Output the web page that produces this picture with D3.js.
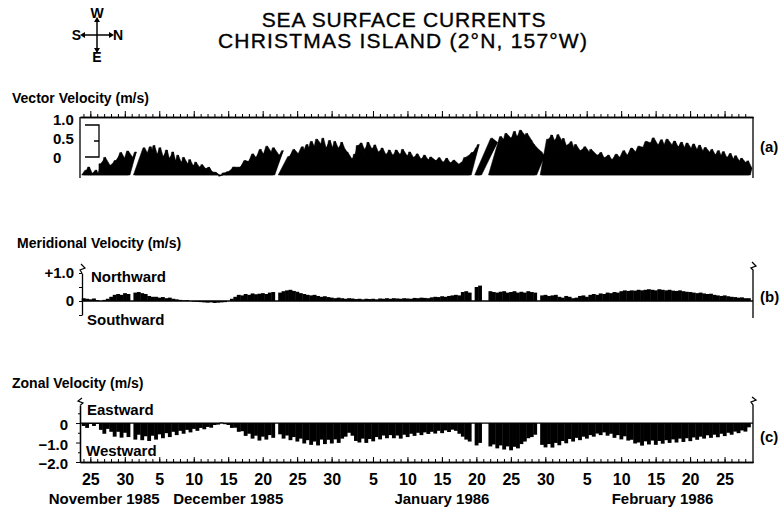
<!DOCTYPE html>
<html>
<head>
  <meta charset="utf-8">
  <title>Sea surface currents - Christmas Island</title>
  <script src="https://d3js.org/d3.v7.min.js"></script>
  <style>
    body { margin: 0; background: #fff; }
    svg text { font-family: "Liberation Sans Narrow", "Arial Narrow", sans-serif; font-weight: bold; fill: #000; }
    svg text.title { font-family: "Liberation Sans", Arial, sans-serif; font-weight: normal; stroke: #000; stroke-width: 0.35px; }
  </style>
</head>
<body>
  <svg id="chart"></svg>

  <script>
    // velocities (m/s), one sample every 12 h from 24 Nov 1985 00:00, null = no data
    const zonal = [
      -0.15, -0.25, -0.05, -0.15, -0.05, -0.35, -0.55, -0.3, -0.45, -0.7,
      -0.45, -0.75, -0.5, -0.72, null, -0.85, -0.6, -0.88, -0.68, -0.92,
      -0.65, -0.85, -0.58, -0.78, -0.52, -0.72, -0.45, -0.62, -0.4, -0.55,
      -0.35, -0.48, -0.3, -0.4, -0.25, -0.32, -0.2, -0.24, -0.1, -0.08,
      0.03, -0.06, -0.1, -0.25, -0.24, -0.45, -0.42, -0.66, -0.55, -0.8,
      -0.65, -0.9, -0.7, -0.85, -0.62, -0.76, null, -0.58, -0.8, -0.64,
      -0.88, -0.72, -0.95, -0.8, -1.05, -0.88, -1.12, -0.95, -1.15, -0.85,
      -1.08, -0.86, -1.05, -0.84, -1.02, -0.8, -0.7, -0.5, -0.65, -0.92,
      -1.0, -0.8, -1.02, -0.82, -0.94, -0.72, -0.84, -0.64, -0.78, -0.62,
      -0.78, -0.64, -0.8, -0.6, -0.72, -0.55, -0.66, -0.5, -0.62, -0.48,
      -0.56, -0.45, -0.54, -0.4, -0.52, -0.38, -0.46, -0.34, -0.4, -0.55,
      -0.7, -0.85, -0.95, null, -1.15, -1.02, null, null, -1.2, -1.1,
      -1.3, -1.15, -1.36, -1.2, -1.4, -1.22, -1.3, -1.08, -0.95, -0.78,
      -0.72, -0.6, null, -1.12, -1.25, -1.08, -1.26, -1.02, -1.14, -0.92,
      -1.04, -0.82, -0.95, -0.76, -0.88, -0.7, -0.8, -0.62, -0.7, -0.54,
      -0.62, -0.48, -0.65, -0.55, -0.76, -0.62, -0.84, -0.68, -0.9, -0.86,
      -1.05, -1.0, -1.16, -0.94, -1.1, -0.9, -1.12, -0.92, -1.06, -0.88,
      -1.02, -0.84, -1.0, -0.8, -0.97, -0.78, -0.93, -0.74, -0.86, -0.7,
      -0.8, -0.63, -0.76, -0.6, -0.73, -0.55, -0.67, -0.5, -0.6, -0.44,
      -0.52, -0.38, -0.44, -0.22
    ];
    const meridional = [
      0.1, 0.08, 0.06, 0.09, 0.03, 0.0, 0.04, 0.08, 0.15, 0.22,
      0.25, 0.22, 0.28, 0.25, null, 0.3, 0.32, 0.28, 0.25, 0.18,
      0.15, 0.15, 0.12, 0.14, 0.1, 0.12, 0.08, 0.06, 0.04, 0.02,
      0.03, 0.0, -0.02, -0.03, -0.04, -0.05, -0.06, -0.05, -0.07, -0.06,
      -0.05, -0.04, 0.0, 0.08, 0.15, 0.22, 0.2, 0.25, 0.22, 0.27,
      0.24, 0.26, 0.28, 0.25, 0.3, 0.32, null, 0.3, 0.35, 0.38,
      0.4, 0.36, 0.33, 0.28, 0.25, 0.22, 0.2, 0.22, 0.18, 0.15,
      0.17, 0.14, 0.12, 0.1, 0.12, 0.1, 0.08, 0.1, 0.09, 0.07,
      0.08, 0.06, 0.08, 0.07, 0.08, 0.06, 0.09, 0.08, 0.1, 0.08,
      0.1, 0.09, 0.08, 0.1, 0.09, 0.08, 0.11, 0.1, 0.12, 0.11,
      0.1, 0.13, 0.15, 0.14, 0.17, 0.15, 0.18, 0.2, 0.22, 0.2,
      0.32, 0.35, 0.3, null, 0.5, 0.55, null, null, 0.35, 0.32,
      0.3, 0.33, 0.35, 0.3, 0.32, 0.35, 0.3, 0.33, 0.3, 0.35,
      0.32, 0.3, null, 0.2, 0.22, 0.18, 0.2, 0.22, 0.15, 0.12,
      0.18, 0.15, 0.1, 0.12, 0.18, 0.2, 0.15, 0.22, 0.25, 0.22,
      0.27, 0.25, 0.3, 0.28, 0.32, 0.3, 0.35, 0.38, 0.36, 0.38,
      0.37, 0.4, 0.38, 0.4, 0.42, 0.4, 0.38, 0.42, 0.4, 0.38,
      0.4, 0.37, 0.36, 0.38, 0.35, 0.33, 0.32, 0.3, 0.28, 0.3,
      0.27, 0.25, 0.26, 0.22, 0.2, 0.18, 0.2, 0.17, 0.15, 0.14,
      0.12, 0.13, 0.1, 0.1
    ];

    // axis labels
    const dayLabelDates = [
      "1985-11-25", "1985-11-30", "1985-12-05", "1985-12-10", "1985-12-15",
      "1985-12-20", "1985-12-25", "1985-12-30", "1986-01-05", "1986-01-10",
      "1986-01-15", "1986-01-20", "1986-01-25", "1986-01-30", "1986-02-05",
      "1986-02-10", "1986-02-15", "1986-02-20", "1986-02-25"
    ];
    const monthLabels = ["November 1985", "December 1985", "January 1986", "February 1986"];
    const monthLabelDates = ["1985-11-27", "1985-12-15", "1986-01-15", "1986-02-16"];
    const vectorTicks = [1.0, 0.5, 0];
    const meridionalTicks = [1.0, 0];
    const zonalTicks = [0, -1.0, -2.0];

    const parse = d3.timeParse("%Y-%m-%d");
    const signed = v => v === 0 ? "0" : (v < 0 ? "\u2212" : "+") + Math.abs(v).toFixed(1);

    const svg = d3.select("#chart").attr("width", 782).attr("height", 510);

    const start = new Date(1985, 10, 24);
    const times = zonal.map((d, i) => d3.timeHour.offset(start, 12 * i));

    const x = d3.scaleTime()
      .domain([new Date(1985, 10, 23, 12), new Date(1986, 2, 1, 3)])
      .range([80, 753]);
    const step = x(times[1]) - x(times[0]);

    const allDays = d3.timeDay.range(new Date(1985, 10, 24), new Date(1986, 2, 1));
    const majorDays = allDays.filter(d => d.getDate() % 5 === 0);

    // ---- title and compass
    svg.append("text").attr("class", "title").attr("x", 404).attr("y", 27).attr("text-anchor", "middle")
      .attr("font-size", 21).attr("letter-spacing", 0.8).text("SEA SURFACE CURRENTS");
    svg.append("text").attr("class", "title").attr("x", 403).attr("y", 48).attr("text-anchor", "middle")
      .attr("font-size", 21).attr("letter-spacing", 1.2).text("CHRISTMAS ISLAND (2°N, 157°W)");

    const comp = svg.append("g").attr("transform", "translate(97,35)");
    comp.append("line").attr("x1", 0).attr("x2", 0).attr("y1", -14).attr("y2", 14).attr("stroke", "#000").attr("stroke-width", 1.5);
    comp.append("line").attr("x1", -13).attr("x2", 13).attr("y1", 0).attr("y2", 0).attr("stroke", "#000").attr("stroke-width", 1.5);
    [[0, -15, 0], [0, 15, 180], [-14, 0, 270], [14, 0, 90]].forEach(([ax, ay, r]) => {
      comp.append("path").attr("d", "M0,-3L3,2L-3,2Z")
        .attr("transform", `translate(${ax},${ay}) rotate(${r})`).attr("fill", "#000");
    });
    const cl = (tx, ty, s, anchor) => comp.append("text").attr("x", tx).attr("y", ty)
      .attr("text-anchor", anchor).attr("font-size", 14).text(s);
    cl(0, -17, "W", "middle");
    cl(0, 27, "E", "middle");
    cl(-16, 5, "S", "end");
    cl(16, 5, "N", "start");

    const label = (tx, ty, s, size = 14, anchor = "start") =>
      svg.append("text").attr("x", tx).attr("y", ty).attr("font-size", size)
        .attr("text-anchor", anchor).text(s);

    // ---- (a) vector velocity stick plot (north to the right, west up)
    label(12, 103, "Vector Velocity  (m/s)", 14);
    const vec = d3.scaleLinear().domain([0, 1]).range([0, 32]);
    const baseA = 175;

    const axA = svg.append("g").attr("transform", "translate(0,117)");
    axA.append("g").call(d3.axisTop(x).tickValues(allDays).tickSize(3).tickSizeOuter(0).tickFormat(""));
    axA.append("g").call(d3.axisTop(x).tickValues(majorDays).tickSize(6).tickSizeOuter(0).tickFormat(""));
    svg.append("path").attr("d", "M80,117V178M753,117V178").attr("stroke", "#000").attr("stroke-width", 1.3).attr("fill", "none");

    const sticks = times.map((t, i) => ({
      ok: zonal[i] !== null && meridional[i] !== null,
      x0: x(t),
      x1: x(t) + vec(meridional[i] ?? 0),
      y1: baseA + vec(zonal[i] ?? 0)
    }));
    const h = step / 2;
    const gA = svg.append("g").attr("fill", "#000").attr("stroke", "#000").attr("stroke-width", 0.5);
    gA.selectAll("path.q").data(d3.pairs(sticks).filter(([a, b]) => a.ok && b.ok)).join("path")
      .attr("class", "q")
      .attr("d", ([a, b]) => `M${a.x0},${baseA}L${a.x1},${a.y1}L${b.x1},${b.y1}L${b.x0},${baseA}Z`);
    gA.selectAll("path.s").data(sticks.filter(s => s.ok)).join("path")
      .attr("class", "s")
      .attr("d", s => `M${s.x0 - h},${baseA}L${s.x1 - h},${s.y1}L${s.x1},${s.y1}L${s.x0 + h},${baseA}Z`);

    // scale bracket
    const bracketBase = 157;
    svg.append("path")
      .attr("d", `M85,${bracketBase - vec(1)}H99V${bracketBase}H85M99,${bracketBase - vec(0.5)}H94`)
      .attr("stroke", "#000").attr("stroke-width", 1.3).attr("fill", "none");
    svg.append("g").selectAll("text").data(vectorTicks).join("text")
      .attr("x", 53).attr("y", d => bracketBase - vec(d) + (d === 1 ? 0 : d === 0.5 ? 3 : 6))
      .attr("font-size", 15).text(d => d === 0 ? "0" : d.toFixed(1));
    label(760, 152, "(a)", 15);

    // ---- (b) meridional velocity
    label(17, 248, "Meridional Velocity  (m/s)", 14);
    const yB = d3.scaleLinear().domain([-0.5, 1]).range([315, 273]);
    svg.append("g").selectAll("rect").data(times.map((t, i) => [t, meridional[i]]).filter(d => d[1] !== null))
      .join("rect")
      .attr("x", d => x(d[0]) - step / 2).attr("width", step + 0.4)
      .attr("y", d => Math.min(yB(0), yB(d[1]))).attr("height", d => Math.abs(yB(d[1]) - yB(0)))
      .attr("fill", "#000");
    svg.append("line").attr("x1", 82).attr("x2", 753).attr("y1", yB(0)).attr("y2", yB(0)).attr("stroke", "#000").attr("stroke-width", 1.3);
    svg.append("g").attr("transform", "translate(82,0)")
      .call(d3.axisLeft(yB).tickValues([1, 0.5, 0, -0.5]).tickSize(3).tickSizeOuter(0).tickFormat(""));
    svg.append("g").selectAll("text").data(meridionalTicks).join("text")
      .attr("x", 74).attr("y", d => yB(d) + 5).attr("text-anchor", "end")
      .attr("font-size", 15).text(d => d === 0 ? "0" : signed(d));
    svg.append("path").attr("d", `M82,${yB(1)}L80,270L85,268L81,264`).attr("stroke", "#000").attr("fill", "none").attr("stroke-width", 1.2);
    svg.append("path").attr("d", `M753,318V270L751,268L756,266L752,262`).attr("stroke", "#000").attr("fill", "none").attr("stroke-width", 1.3);
    label(91, 282, "Northward", 15);
    label(87, 325, "Southward", 15);
    label(760, 302, "(b)", 15);

    // ---- (c) zonal velocity
    label(12, 388, "Zonal Velocity  (m/s)", 14);
    const yC = d3.scaleLinear().domain([-2, 0.9]).range([462, 405.5]);
    svg.append("g").selectAll("rect").data(times.map((t, i) => [t, zonal[i]]).filter(d => d[1] !== null))
      .join("rect")
      .attr("x", d => x(d[0]) - step / 2).attr("width", step + 0.4)
      .attr("y", d => Math.min(yC(0), yC(d[1]))).attr("height", d => Math.abs(yC(d[1]) - yC(0)))
      .attr("fill", "#000");
    svg.append("line").attr("x1", 80).attr("x2", 753).attr("y1", yC(0)).attr("y2", yC(0)).attr("stroke", "#000").attr("stroke-width", 1.3);
    svg.append("g").attr("transform", "translate(80,0)")
      .call(d3.axisLeft(yC).tickValues(zonalTicks).tickSize(4).tickSizeOuter(0).tickPadding(8).tickFormat(signed))
      .call(g => g.selectAll("text").attr("font-size", 15).attr("font-family", null).attr("dy", "0.45em"));
    svg.append("g").attr("transform", "translate(80,0)")
      .call(d3.axisLeft(yC).tickValues([0.5, -0.5, -1.5]).tickSize(2).tickSizeOuter(0).tickFormat(""));
    svg.append("path").attr("d", `M80,${yC(0.9)}L83,403L78,401L82,398`).attr("stroke", "#000").attr("fill", "none").attr("stroke-width", 1.2);
    svg.append("path").attr("d", `M753,463V405L751,402L756,400L752,397`).attr("stroke", "#000").attr("fill", "none").attr("stroke-width", 1.3);
    label(87, 415, "Eastward", 15);
    label(86, 456, "Westward", 15);
    label(760, 442, "(c)", 15);

    // bottom date axis
    const axC = svg.append("g").attr("transform", "translate(0,462)");
    axC.append("g").call(d3.axisBottom(x).tickValues(allDays).tickSize(-3).tickSizeOuter(0).tickFormat(""));
    axC.append("g").call(d3.axisBottom(x).tickValues(dayLabelDates.map(parse)).tickSize(-5).tickSizeOuter(0)
        .tickPadding(12).tickFormat(d3.timeFormat("%-d")))
      .call(g => g.selectAll("text").attr("font-size", 16).attr("font-family", null));
    svg.append("g").selectAll("text").data(monthLabels).join("text")
      .attr("x", (d, i) => x(parse(monthLabelDates[i]))).attr("y", 504)
      .attr("text-anchor", "middle").attr("font-size", 15).text(d => d);

    svg.selectAll(".domain").attr("stroke-width", 1.3);
  </script>
</body>
</html>
